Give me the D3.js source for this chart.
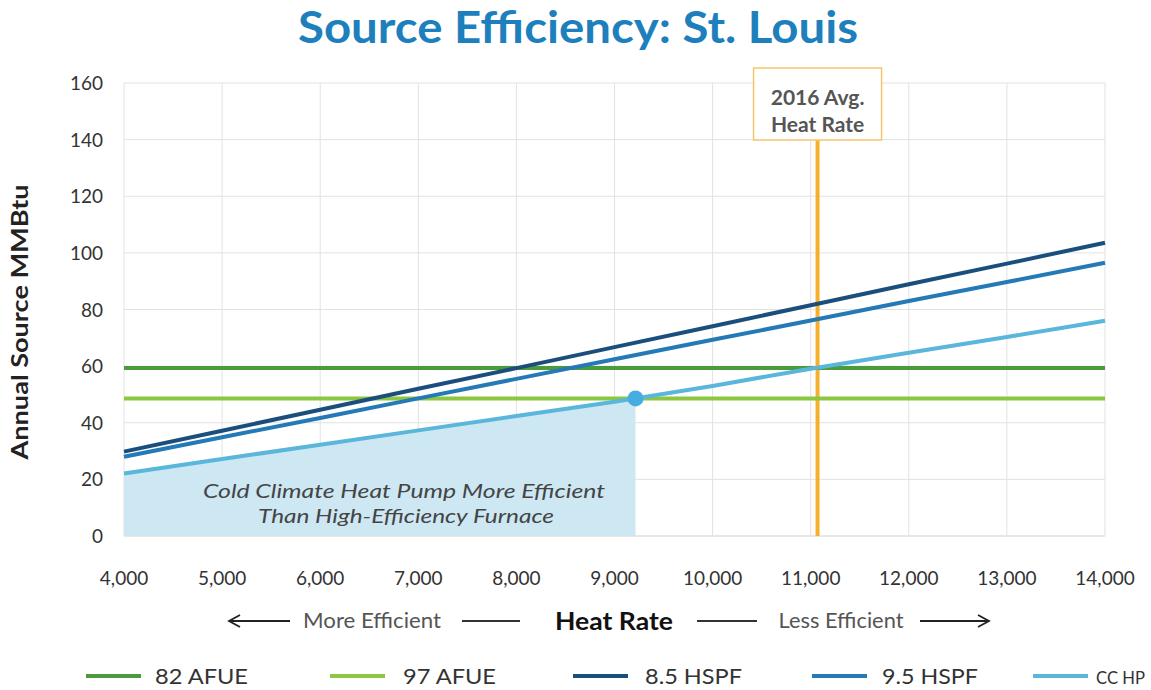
<!DOCTYPE html>
<html>
<head>
<meta charset="utf-8">
<script src="https://cdn.jsdelivr.net/npm/d3@7"></script>
<style>
  body { margin: 0; background: #fff; }
  text { font-family: Lato, "Open Sans", sans-serif; }
</style>
</head>
<body>
<svg id="chart" width="1151" height="690"></svg>
<script>
var width = 1151, height = 690;
var margin = {left: 124, right: 46, top: 83, bottom: 154};

// heat rate (x) samples
var heatRates = [4000, 5000, 6000, 7000, 8000, 9000, 10000, 11000, 12000, 13000, 14000];
// series values (annual source MMBtu)
var afue82 = [59.3, 59.3, 59.3, 59.3, 59.3, 59.3, 59.3, 59.3, 59.3, 59.3, 59.3];
var afue97 = [48.6, 48.6, 48.6, 48.6, 48.6, 48.6, 48.6, 48.6, 48.6, 48.6, 48.6];
var hspf85 = [29.8, 37.2, 44.6, 52.0, 59.3, 66.7, 74.1, 81.5, 88.9, 96.2, 103.6];
var hspf95 = [28.0, 34.9, 41.7, 48.6, 55.5, 62.4, 69.3, 76.1, 83.0, 89.7, 96.5];
var ccHp   = [22.1, 27.2, 32.2, 37.3, 42.4, 47.4, 53.0, 59.1, 64.7, 70.3, 76.0];

var seriesNames  = ["82 AFUE", "97 AFUE", "8.5 HSPF", "9.5 HSPF", "CC HP"];
var seriesColors = ["#4c9a3e", "#8dc641", "#1a4f7d", "#2479b7", "#5bb6dc"];
var seriesValues = [afue82, afue97, hspf85, hspf95, ccHp];

var yTicks = [0, 20, 40, 60, 80, 100, 120, 140, 160];
var xTicks = [4000, 5000, 6000, 7000, 8000, 9000, 10000, 11000, 12000, 13000, 14000];
var avgHeatRate = 11070;

var svg = d3.select("#chart");

var x = d3.scaleLinear().domain([4000, 14000]).range([margin.left, width - margin.right]);
var y = d3.scaleLinear().domain([0, 160]).range([height - margin.bottom, margin.top]);

// title
svg.append("text")
    .attr("x", 578).attr("y", 43)
    .attr("text-anchor", "middle")
    .attr("fill", "#1d80bd")
    .attr("textLength", 560).attr("lengthAdjust", "spacingAndGlyphs")
    .style("font-size", "44px").style("font-weight", "bold")
    .text("Source Efficiency: St. Louis");

// gridlines
svg.append("g").selectAll("line.h").data(yTicks).enter().append("line")
    .attr("x1", x(4000)).attr("x2", x(14000))
    .attr("y1", d => y(d)).attr("y2", d => y(d))
    .attr("stroke", d => d === 0 ? "#cfcfcf" : "#e2e2e2").attr("stroke-width", 1);
svg.append("g").selectAll("line.v").data(xTicks).enter().append("line")
    .attr("x1", d => x(d)).attr("x2", d => x(d))
    .attr("y1", y(0)).attr("y2", y(160))
    .attr("stroke", "#e2e2e2").attr("stroke-width", 1);

// where the CC HP line meets the 97 AFUE line
var crossX = null;
for (var i = 1; i < heatRates.length; i++) {
  var a = ccHp[i - 1] - afue97[i - 1], b = ccHp[i] - afue97[i];
  if (a <= 0 && b > 0) {
    crossX = heatRates[i - 1] + (heatRates[i] - heatRates[i - 1]) * (-a) / (b - a);
    break;
  }
}
var ccAt = d3.scaleLinear().domain(heatRates).range(ccHp);
var areaPts = heatRates.filter(h => h < crossX).concat([crossX]);

svg.append("path")
    .datum(areaPts)
    .attr("fill", "#cde7f3")
    .attr("d", d3.area().x(d => x(d)).y0(y(0)).y1(d => y(ccAt(d))));

svg.append("text")
    .attr("x", 404).attr("y", 498)
    .attr("text-anchor", "middle").attr("fill", "#444")
    .attr("textLength", 402).attr("lengthAdjust", "spacingAndGlyphs")
    .style("font-size", "20px").style("font-style", "italic")
    .text("Cold Climate Heat Pump More Efficient");
svg.append("text")
    .attr("x", 406).attr("y", 523)
    .attr("text-anchor", "middle").attr("fill", "#444")
    .attr("textLength", 296).attr("lengthAdjust", "spacingAndGlyphs")
    .style("font-size", "20px").style("font-style", "italic")
    .text("Than High-Efficiency Furnace");

// avg heat rate marker
svg.append("line")
    .attr("x1", x(avgHeatRate)).attr("x2", x(avgHeatRate))
    .attr("y1", 140).attr("y2", y(0))
    .attr("stroke", "#f5b12e").attr("stroke-width", 4);
svg.append("rect")
    .attr("x", x(avgHeatRate) - 64).attr("y", 68)
    .attr("width", 128).attr("height", 72)
    .attr("fill", "#fff").attr("stroke", "#f6c56a").attr("stroke-width", 1.5);
svg.append("text")
    .attr("x", x(avgHeatRate)).attr("y", 105)
    .attr("text-anchor", "middle").attr("fill", "#555")
    .style("font-size", "21px").style("font-weight", "bold")
    .text("2016 Avg.");
svg.append("text")
    .attr("x", x(avgHeatRate)).attr("y", 132)
    .attr("text-anchor", "middle").attr("fill", "#555")
    .style("font-size", "21px").style("font-weight", "bold")
    .text("Heat Rate");

// series lines
var line = d3.line().x((d, i) => x(heatRates[i])).y(d => y(d));
svg.append("g").selectAll("path").data(seriesValues).enter().append("path")
    .attr("fill", "none")
    .attr("stroke", (d, i) => seriesColors[i])
    .attr("stroke-width", 4)
    .attr("d", line);

// intersection dot
svg.append("circle")
    .attr("cx", x(crossX)).attr("cy", y(ccAt(crossX)))
    .attr("r", 8).attr("fill", "#46ade0");

// axes labels
svg.append("g").selectAll("text").data(yTicks).enter().append("text")
    .attr("x", 103).attr("y", d => y(d) + 7)
    .attr("text-anchor", "end").attr("fill", "#333")
    .style("font-size", "19px")
    .text(d => d);
var fmt = d3.format(",");
svg.append("g").selectAll("text").data(xTicks).enter().append("text")
    .attr("x", d => x(d)).attr("y", 585)
    .attr("text-anchor", "middle").attr("fill", "#333")
    .style("font-size", "19px")
    .text(d => fmt(d));

svg.append("text")
    .attr("transform", "translate(28,322) rotate(-90)")
    .attr("text-anchor", "middle").attr("fill", "#222")
    .attr("textLength", 275).attr("lengthAdjust", "spacingAndGlyphs")
    .style("font-size", "22px").style("font-weight", "bold")
    .text("Annual Source MMBtu");

// x axis title row
var rowY = 621;
svg.append("text").attr("x", 614).attr("y", rowY + 9)
    .attr("text-anchor", "middle").attr("fill", "#111")
    .attr("textLength", 118).attr("lengthAdjust", "spacingAndGlyphs")
    .style("font-size", "25px").style("font-weight", "bold")
    .text("Heat Rate");
svg.append("text").attr("x", 372).attr("y", rowY + 7)
    .attr("text-anchor", "middle").attr("fill", "#555")
    .attr("textLength", 138).attr("lengthAdjust", "spacingAndGlyphs")
    .style("font-size", "21px")
    .text("More Efficient");
svg.append("text").attr("x", 841).attr("y", rowY + 7)
    .attr("text-anchor", "middle").attr("fill", "#555")
    .attr("textLength", 125).attr("lengthAdjust", "spacingAndGlyphs")
    .style("font-size", "21px")
    .text("Less Efficient");
var dashes = [[462, 520], [697, 757]];
svg.append("g").selectAll("line").data(dashes).enter().append("line")
    .attr("x1", d => d[0]).attr("x2", d => d[1])
    .attr("y1", rowY).attr("y2", rowY)
    .attr("stroke", "#333").attr("stroke-width", 1.8);
// arrows
svg.append("path")
    .attr("d", "M290," + rowY + "H230M240," + (rowY - 6) + "L229," + rowY + "L240," + (rowY + 6))
    .attr("fill", "none").attr("stroke", "#222").attr("stroke-width", 1.8);
svg.append("path")
    .attr("d", "M920," + rowY + "H989M978," + (rowY - 6) + "L989," + rowY + "L978," + (rowY + 6))
    .attr("fill", "none").attr("stroke", "#222").attr("stroke-width", 1.8);

// legend
var legendX = [86, 330, 573, 812, 1033];
var legendTextX = [155, 403, 645, 882, 1096];
var legendTextW = [93, 93, 97, 96, 49];
var legendSize = [22, 22, 22, 22, 18];
var leg = svg.append("g").selectAll("g").data(seriesNames).enter().append("g");
leg.append("line")
    .attr("x1", (d, i) => legendX[i]).attr("x2", (d, i) => legendX[i] + 55)
    .attr("y1", 676).attr("y2", 676)
    .attr("stroke", (d, i) => seriesColors[i]).attr("stroke-width", 4);
leg.append("text")
    .attr("x", (d, i) => legendTextX[i]).attr("y", 684)
    .attr("textLength", (d, i) => legendTextW[i]).attr("lengthAdjust", "spacingAndGlyphs")
    .attr("fill", "#333").style("font-size", (d, i) => legendSize[i] + "px")
    .text(d => d);
</script>
</body>
</html>
